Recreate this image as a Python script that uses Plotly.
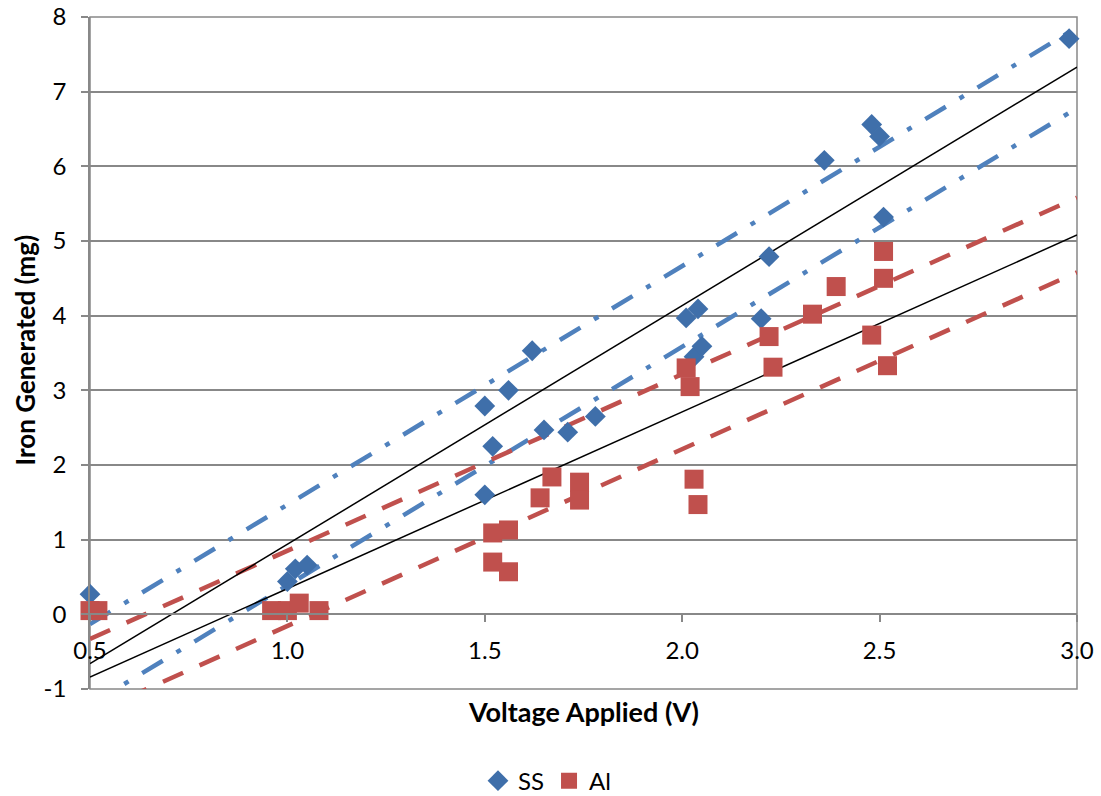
import plotly.graph_objects as go

# Measured iron generated (mg) vs applied voltage (V)
ss_voltage = [0.50, 1.00, 1.02, 1.05, 1.50, 1.50, 1.52, 1.56, 1.62, 1.65, 1.71, 1.78,
              2.01, 2.03, 2.04, 2.05, 2.20, 2.22, 2.36, 2.48, 2.50, 2.51, 2.98]
ss_iron = [0.27, 0.44, 0.61, 0.66, 2.79, 1.60, 2.25, 3.00, 3.53, 2.47, 2.44, 2.65,
           3.97, 3.45, 4.09, 3.59, 3.96, 4.79, 6.08, 6.56, 6.40, 5.32, 7.71]

al_voltage = [0.50, 0.52, 0.96, 1.00, 1.03, 1.08, 1.52, 1.52, 1.56, 1.56, 1.64, 1.67,
              1.74, 1.74, 2.01, 2.02, 2.03, 2.04, 2.22, 2.23, 2.33, 2.39, 2.48, 2.51,
              2.51, 2.52]
al_iron = [0.05, 0.05, 0.05, 0.05, 0.15, 0.05, 1.09, 0.70, 1.13, 0.57, 1.56, 1.84,
           1.77, 1.53, 3.30, 3.05, 1.81, 1.47, 3.72, 3.31, 4.02, 4.39, 3.74, 4.86,
           4.50, 3.33]

# Linear fits and their bands, given at the ends of the voltage range
fit_voltage = [0.5, 3.0]
ss_fit = [-0.66, 7.33]
ss_band_upper = [-0.13, 7.86]
ss_band_lower = [-1.21, 6.78]
al_fit = [-0.84, 5.08]
al_band_upper = [-0.33, 5.58]
al_band_lower = [-1.34, 4.58]

x_ticks = [0.5, 1.0, 1.5, 2.0, 2.5, 3.0]
y_ticks = [-1, 0, 1, 2, 3, 4, 5, 6, 7, 8]
y_tick_text = ["-1", "0", "1", "2", "3", "4", "5", "6", "7", "8"]

BLUE_MARK = "#3F6FAA"
BLUE_LINE = "#4F81BD"
RED = "#C0504D"
GRID = "#888888"
FONT = "Lato"

fig = go.Figure()

dashdot = "24px,16px,5px,16px"
dashed = "22px,18px"

fig.add_trace(go.Scatter(x=fit_voltage, y=ss_band_upper, mode="lines", showlegend=False,
                         line=dict(color=BLUE_LINE, width=4.5, dash=dashdot), hoverinfo="skip"))
fig.add_trace(go.Scatter(x=fit_voltage, y=ss_band_lower, mode="lines", showlegend=False,
                         line=dict(color=BLUE_LINE, width=4.5, dash=dashdot), hoverinfo="skip"))
fig.add_trace(go.Scatter(x=fit_voltage, y=al_band_upper, mode="lines", showlegend=False,
                         line=dict(color=RED, width=4.5, dash=dashed), hoverinfo="skip"))
fig.add_trace(go.Scatter(x=fit_voltage, y=al_band_lower, mode="lines", showlegend=False,
                         line=dict(color=RED, width=4.5, dash=dashed), hoverinfo="skip"))
fig.add_trace(go.Scatter(x=fit_voltage, y=ss_fit, mode="lines", showlegend=False,
                         line=dict(color="black", width=1.5), hoverinfo="skip"))
fig.add_trace(go.Scatter(x=fit_voltage, y=al_fit, mode="lines", showlegend=False,
                         line=dict(color="black", width=1.5), hoverinfo="skip"))

fig.add_trace(go.Scatter(x=ss_voltage, y=ss_iron, mode="markers", name="SS", cliponaxis=False,
                         marker=dict(symbol="diamond", size=16, color=BLUE_MARK,
                                     line=dict(width=0))))
fig.add_trace(go.Scatter(x=al_voltage, y=al_iron, mode="markers", name="Al", cliponaxis=False,
                         marker=dict(symbol="square", size=19, color=RED,
                                     line=dict(width=0))))

# frame around the plotting area
fig.add_shape(type="rect", xref="x domain", yref="y domain", x0=0, x1=1, y0=0, y1=1,
              line=dict(color=GRID, width=1.5), layer="below")

# axis titles
fig.add_annotation(text="<b>Voltage Applied (V)</b>", xref="paper", yref="paper",
                   x=0.5, y=-0.034, xanchor="center", yanchor="middle",
                   showarrow=False, font=dict(size=27))
fig.add_annotation(text="<b>Iron Generated (mg)</b>", xref="paper", yref="paper",
                   x=-0.066, y=0.505, xanchor="center", yanchor="middle", textangle=-90,
                   showarrow=False, font=dict(size=26))

fig.update_layout(
    width=1101, height=796,
    margin=dict(l=90, r=24, t=17, b=107, autoexpand=False),
    paper_bgcolor="white", plot_bgcolor="white",
    font=dict(family=FONT, size=24, color="black"),
    legend=dict(orientation="h", x=0.463, xanchor="center", y=-0.137, yanchor="middle",
                font=dict(size=24)),
    xaxis=dict(
        range=[0.5, 3.0], tickvals=x_ticks, ticktext=[f"{v:.1f}" for v in x_ticks],
        anchor="free", position=1 / 9, showline=True, linecolor=GRID, linewidth=1.5,
        ticks="outside", ticklen=7, tickcolor=GRID, tickwidth=1.5,
        showgrid=False, zeroline=False, ticklabelstandoff=8, automargin=False,
    ),
    yaxis=dict(
        range=[-1, 8], tickvals=y_ticks, ticktext=y_tick_text,
        showline=True, linecolor=GRID, linewidth=1.5,
        ticks="outside", ticklen=7, tickcolor=GRID, tickwidth=1.5,
        showgrid=True, gridcolor=GRID, gridwidth=1.5, zeroline=False,
        ticklabelstandoff=10, automargin=False,
    ),
)

fig.write_html("out.html")
